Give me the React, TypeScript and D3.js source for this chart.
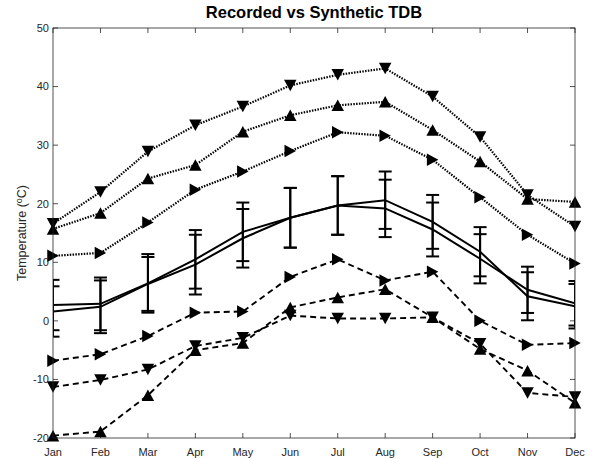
import * as d3 from "d3";

const months = ["Jan", "Feb", "Mar", "Apr", "May", "Jun", "Jul", "Aug", "Sep", "Oct", "Nov", "Dec"];
const yTicks = [-20, -10, 0, 10, 20, 30, 40, 50];

// synthetic extremes, dotted (upper) and dashed (lower)
const dottedDown = [16.6, 22, 28.9, 33.4, 36.6, 40.2, 42, 43.1, 38.3, 31.4, 21.5, 16.1];
const dottedUp = [15.7, 18.4, 24.3, 26.6, 32.3, 35.1, 36.8, 37.4, 32.6, 27.2, 20.8, 20.3];
const dottedRight = [11.1, 11.6, 16.8, 22.4, 25.5, 29.0, 32.2, 31.6, 27.5, 21.1, 14.7, 9.8];
const dashedRight = [-6.8, -5.7, -2.6, 1.4, 1.6, 7.5, 10.5, 6.9, 8.4, 0.0, -4.1, -3.8];
const dashedDown = [-11.3, -10.1, -8.3, -4.3, -2.9, 0.9, 0.4, 0.4, 0.6, -3.9, -12.3, -13.0];
const dashedUp = [-19.6, -18.9, -12.7, -5.0, -3.8, 2.3, 4.0, 5.4, 0.6, -4.8, -8.5, -14.0];

// monthly means with std error bars
const recorded = [2.7, 2.9, 6.4, 10.5, 15.2, 17.6, 19.7, 20.6, 16.9, 11.8, 4.2, 2.5];
const recordedErr = [4.3, 4.5, 5.0, 5.0, 5.0, 5.1, 5.0, 4.9, 4.6, 4.2, 4.1, 3.8];
const synthetic = [1.6, 2.4, 6.3, 9.6, 14.1, 17.6, 19.7, 19.2, 15.6, 10.6, 5.3, 3.0];
const syntheticErr = [4.3, 4.5, 4.6, 5.1, 5.0, 5.1, 5.0, 4.9, 4.6, 4.2, 3.95, 3.8];

const W = 592;
const H = 459;
const left = 53, right = 575, top = 28, bottom = 438;

const x = d3.scalePoint<string>().domain(months).range([left, right]);
const y = d3.scaleLinear().domain([-20, 50]).range([bottom, top]);

const line = d3
  .line<number>()
  .x((_, i) => x(months[i]) as number)
  .y((d) => y(d));

type Mk = "up" | "down" | "right";

function marker(kind: Mk, cx: number, cy: number) {
  const b = 12.5;
  const h = 11.5;
  if (kind === "up") return `M${cx},${cy - h / 2}L${cx + b / 2},${cy + h / 2}L${cx - b / 2},${cy + h / 2}Z`;
  if (kind === "down") return `M${cx},${cy + h / 2}L${cx + b / 2},${cy - h / 2}L${cx - b / 2},${cy - h / 2}Z`;
  return `M${cx + h / 2},${cy}L${cx - h / 2},${cy - b / 2}L${cx - h / 2},${cy + b / 2}Z`;
}

const dot = { dash: "1.5,1.3", width: 2.2 };
const dash = { dash: "6,4", width: 1.9 };

const markerSeries: { data: number[]; kind: Mk; style: { dash: string; width: number } }[] = [
  { data: dottedDown, kind: "down", style: dot },
  { data: dottedUp, kind: "up", style: dot },
  { data: dottedRight, kind: "right", style: dot },
  { data: dashedRight, kind: "right", style: dash },
  { data: dashedDown, kind: "down", style: dash },
  { data: dashedUp, kind: "up", style: dash },
];

const errSeries = [
  { data: recorded, err: recordedErr },
  { data: synthetic, err: syntheticErr },
];

const axisColor = "#262626";
const font = "Arial, 'Liberation Sans', Helvetica, sans-serif";

export default function App() {
  const cap = 6.5;
  return (
    <svg width={W} height={H} style={{ position: "absolute", left: 0, top: 0, background: "#fff" }} fontFamily={font}>
      <defs>
        <clipPath id="plot">
          <rect x={left} y={top} width={right - left} height={bottom - top} />
        </clipPath>
      </defs>
      <rect width={W} height={H} fill="#fff" />

      {/* ticks */}
      {months.map((m) => (
        <g key={m} stroke={axisColor} strokeWidth={0.8}>
          <line x1={x(m)} x2={x(m)} y1={bottom} y2={bottom - 5} />
          <line x1={x(m)} x2={x(m)} y1={top} y2={top + 5} />
        </g>
      ))}
      {yTicks.map((t) => (
        <g key={t} stroke={axisColor} strokeWidth={0.8}>
          <line x1={left} x2={left + 5} y1={y(t)} y2={y(t)} />
          <line x1={right} x2={right - 5} y1={y(t)} y2={y(t)} />
        </g>
      ))}

      <g clipPath="url(#plot)" fill="none" stroke="#000">
        {markerSeries.map((s, i) => (
          <path key={i} d={line(s.data) ?? ""} strokeDasharray={s.style.dash} strokeWidth={s.style.width} />
        ))}
        {errSeries.map((s, i) => (
          <g key={i} strokeWidth={2}>
            <path d={line(s.data) ?? ""} />
            {s.data.map((v, j) => {
              const cx = x(months[j]) as number;
              const y1 = y(v + s.err[j]);
              const y2 = y(v - s.err[j]);
              return (
                <g key={j}>
                  <line x1={cx} x2={cx} y1={y1} y2={y2} />
                  <line x1={cx - cap} x2={cx + cap} y1={y1} y2={y1} />
                  <line x1={cx - cap} x2={cx + cap} y1={y2} y2={y2} />
                </g>
              );
            })}
          </g>
        ))}
      </g>

      <g fill="#000">
        {markerSeries.map((s, i) =>
          s.data.map((v, j) => <path key={`${i}-${j}`} d={marker(s.kind, x(months[j]) as number, y(v))} />)
        )}
      </g>

      {/* box */}
      <rect x={left} y={top} width={right - left} height={bottom - top} fill="none" stroke={axisColor} strokeWidth={0.8} />

      {/* tick labels */}
      {yTicks.map((t) => (
        <text key={t} x={left - 4} y={y(t)} dy="0.35em" textAnchor="end" fontSize={11} fill={axisColor}>
          {t}
        </text>
      ))}
      {months.map((m) => (
        <text key={m} x={x(m)} y={455.5} textAnchor="middle" fontSize={11} fill={axisColor}>
          {m}
        </text>
      ))}

      <text
        transform={`translate(26,${(top + bottom) / 2}) rotate(-90)`}
        textAnchor="middle"
        fontSize={12.5}
        fill={axisColor}
      >
        Temperature (<tspan dy={-4.5} fontSize={9}>o</tspan>
        <tspan dy={4.5}>C)</tspan>
      </text>

      <text x={(left + right) / 2} y={18} textAnchor="middle" fontSize={16.5} fontWeight="bold" fill="#000">
        Recorded vs Synthetic TDB
      </text>
    </svg>
  );
}
